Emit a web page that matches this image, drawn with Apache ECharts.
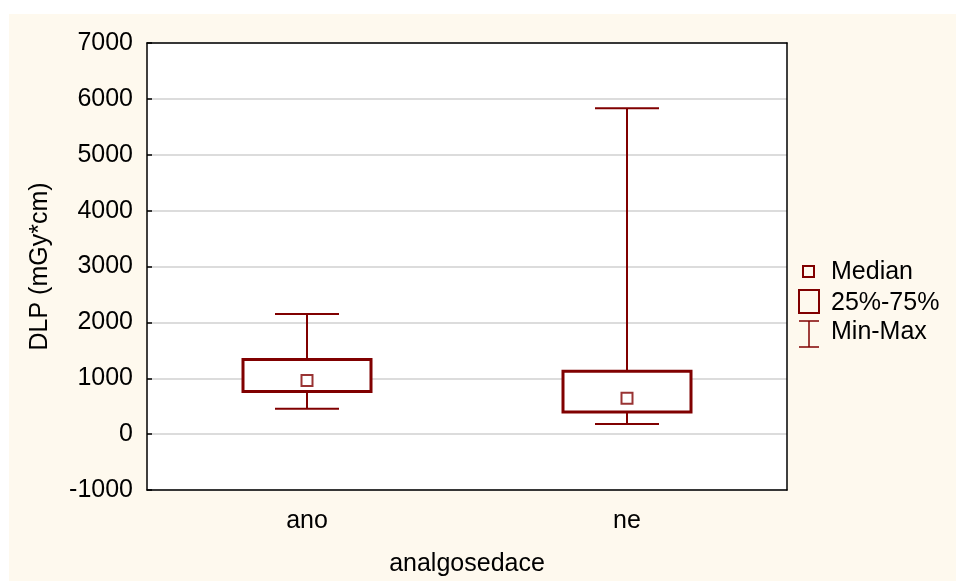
<!DOCTYPE html>
<html lang="cs">
<head>
  <meta charset="UTF-8">
  <title>DLP</title>
  <style>
    body { margin: 0; background: #ffffff; }
    #main { position: absolute; left: 9px; top: 14px; width: 947px; height: 567px; background: #fef9ee; }
  </style>
</head>
<body>
  <div id="main"></div>
</body>
<script src="https://cdn.jsdelivr.net/npm/echarts@6/dist/echarts.min.js"></script>
<script>
  var categories = ['ano', 'ne'];
  var minVals = [453, 179];
  var q1Vals = [764, 394];
  var medianVals = [960, 644];
  var q3Vals = [1336, 1127];
  var maxVals = [2152, 5832];
  var yTicks = [-1000, 7000, 1000]; // min, max, interval
  var legendNames = ['Median', '25%-75%', 'Min-Max'];

  var red = '#800000';
  var font = 'Arial, "Liberation Sans", sans-serif';
  var fs = 25;

  var chartDom = document.getElementById('main');
  var myChart = echarts.init(chartDom);

  var boxData = categories.map(function (c, i) {
    return [i, minVals[i], q1Vals[i], q3Vals[i], maxVals[i]];
  });
  var medData = categories.map(function (c, i) {
    return [i, medianVals[i]];
  });

  function renderBox(params, api) {
    var x = api.value(0);
    var band = api.size([1, 0])[0];
    var pMin = api.coord([x, api.value(1)]);
    var pQ1 = api.coord([x, api.value(2)]);
    var pQ3 = api.coord([x, api.value(3)]);
    var pMax = api.coord([x, api.value(4)]);
    var bw = band * 0.4;
    var cw = band * 0.2;
    var cx = pMin[0];
    var lineStyle = { stroke: red, lineWidth: 2 };
    return {
      type: 'group',
      children: [
        { type: 'line', shape: { x1: cx, y1: pMax[1], x2: cx, y2: pQ3[1] }, style: lineStyle },
        { type: 'line', shape: { x1: cx, y1: pQ1[1], x2: cx, y2: pMin[1] }, style: lineStyle },
        { type: 'line', shape: { x1: cx - cw / 2, y1: pMax[1], x2: cx + cw / 2, y2: pMax[1] }, style: lineStyle },
        { type: 'line', shape: { x1: cx - cw / 2, y1: pMin[1], x2: cx + cw / 2, y2: pMin[1] }, style: lineStyle },
        {
          type: 'rect',
          shape: { x: cx - bw / 2, y: pQ3[1], width: bw, height: pQ1[1] - pQ3[1] },
          style: { fill: '#ffffff', stroke: red, lineWidth: 3 }
        }
      ]
    };
  }

  var frameLine = { show: true, onZero: false, lineStyle: { color: '#000', width: 1.5 } };

  var option = {
    animation: false,
    grid: {
      left: 138,
      top: 29,
      width: 640,
      height: 447,
      outerBoundsMode: 'none',
      containLabel: false,
      show: true,
      backgroundColor: '#ffffff',
      borderWidth: 0
    },
    xAxis: [
      {
        type: 'category',
        data: categories,
        boundaryGap: true,
        name: 'analgosedace',
        nameLocation: 'middle',
        nameGap: 62,
        nameTextStyle: { fontSize: fs, color: '#000', fontFamily: font },
        axisLine: frameLine,
        axisTick: { show: false },
        axisLabel: { fontSize: fs, color: '#000', fontFamily: font, margin: 19 },
        splitLine: { show: false }
      },
      {
        type: 'category',
        data: categories,
        position: 'top',
        axisLine: frameLine,
        axisTick: { show: false },
        axisLabel: { show: false },
        splitLine: { show: false }
      }
    ],
    yAxis: [
      {
        type: 'value',
        min: yTicks[0],
        max: yTicks[1],
        interval: yTicks[2],
        name: 'DLP (mGy*cm)',
        nameLocation: 'middle',
        nameGap: 94,
        nameTextStyle: { fontSize: fs, color: '#000', fontFamily: font },
        axisLine: frameLine,
        axisTick: { show: true, inside: true, length: 5, lineStyle: { color: '#000', width: 1.5 } },
        axisLabel: {
          fontSize: fs, color: '#000', fontFamily: font, margin: 14,
          formatter: function (v) { return String(v); }
        },
        splitLine: { show: true, lineStyle: { color: '#dcdcdc', width: 2 } }
      },
      {
        type: 'value',
        min: yTicks[0],
        max: yTicks[1],
        interval: yTicks[2],
        position: 'right',
        axisLine: frameLine,
        axisTick: { show: false },
        axisLabel: { show: false },
        splitLine: { show: false }
      }
    ],
    series: [
      {
        name: legendNames[2],
        type: 'custom',
        renderItem: renderBox,
        data: boxData,
        z: 2
      },
      {
        name: legendNames[0],
        type: 'scatter',
        symbol: 'rect',
        symbolSize: 11,
        data: medData,
        itemStyle: { color: '#ffffff', borderColor: red, borderWidth: 2 },
        z: 3
      }
    ],
    graphic: [
      { type: 'rect', shape: { x: 794, y: 252, width: 11, height: 11 }, style: { fill: 'none', stroke: red, lineWidth: 2 } },
      { type: 'rect', shape: { x: 790, y: 276, width: 20, height: 23 }, style: { fill: 'none', stroke: red, lineWidth: 2 } },
      { type: 'line', shape: { x1: 800, y1: 307, x2: 800, y2: 333 }, style: { stroke: red, lineWidth: 1.5 } },
      { type: 'line', shape: { x1: 790, y1: 307, x2: 810, y2: 307 }, style: { stroke: red, lineWidth: 1.5 } },
      { type: 'line', shape: { x1: 790, y1: 333, x2: 810, y2: 333 }, style: { stroke: red, lineWidth: 1.5 } },
      { type: 'text', x: 822, y: 258, style: { text: legendNames[0], fontSize: fs, fill: '#000', fontFamily: font, verticalAlign: 'middle' } },
      { type: 'text', x: 822, y: 289, style: { text: legendNames[1], fontSize: fs, fill: '#000', fontFamily: font, verticalAlign: 'middle' } },
      { type: 'text', x: 822, y: 318, style: { text: legendNames[2], fontSize: fs, fill: '#000', fontFamily: font, verticalAlign: 'middle' } }
    ]
  };

  option && myChart.setOption(option);
</script>
</html>
